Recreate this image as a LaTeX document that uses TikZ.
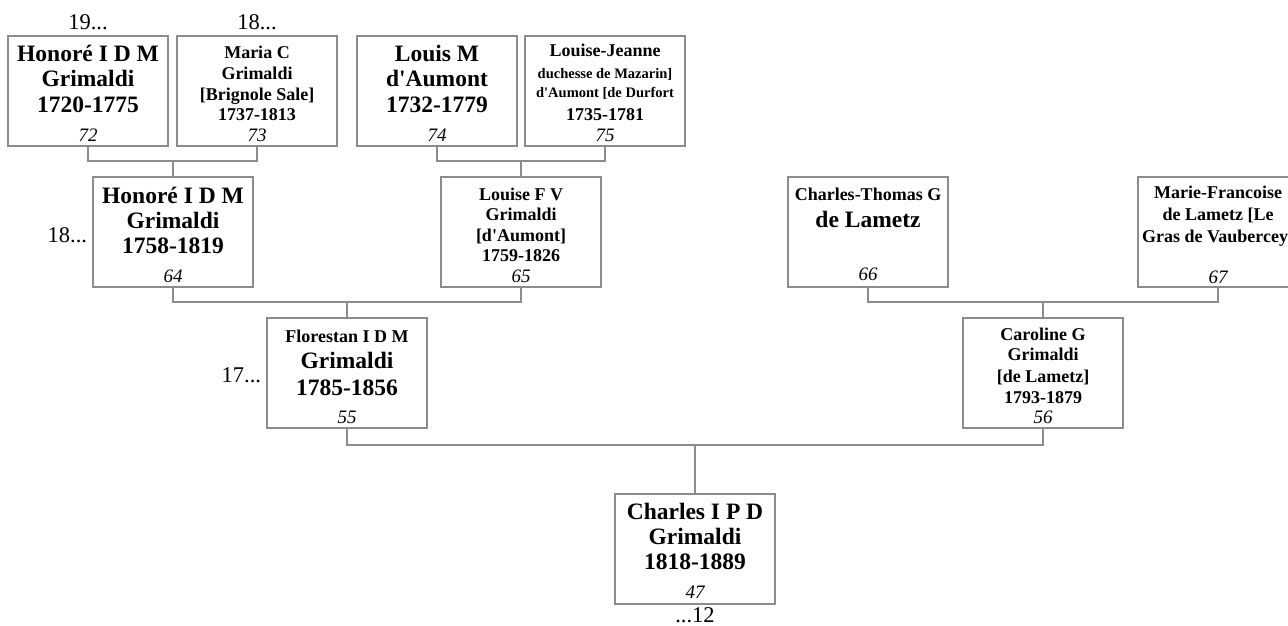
\documentclass[tikz,border=0pt]{standalone}
\usepackage{fontspec}
\setmainfont{Liberation Serif}
\definecolor{linegray}{HTML}{8C8C8C}
\newcommand\ap{\textquotesingle}
\begin{document}
\begin{tikzpicture}[x=1pt,y=-1pt,
  pbox/.style={draw=linegray,line width=1.2pt,minimum width=160pt,minimum height=110pt,inner sep=0pt,outer sep=0pt},
  conn/.style={draw=linegray,line width=1.2pt},
  tl/.style={anchor=base,inner sep=0pt,outer sep=0pt},
  big/.style={tl,font=\fontsize{23.5}{25}\selectfont\bfseries},
  med/.style={tl,font=\fontsize{18}{20}\selectfont\bfseries},
  sml/.style={tl,font=\fontsize{14.5}{16}\selectfont\bfseries},
  num/.style={tl,font=\fontsize{19}{21}\selectfont\itshape},
  gen/.style={tl,font=\fontsize{22.5}{24}\selectfont},
]
\useasboundingbox (0,0) rectangle (1288,626);

% boxes
\node[pbox] (b72) at (88,91) {};
\node[pbox] (b73) at (257,91) {};
\node[pbox] (b74) at (437,91) {};
\node[pbox] (b75) at (605,91) {};
\node[pbox] (b64) at (173,232) {};
\node[pbox] (b65) at (521,232) {};
\node[pbox] (b66) at (868,232) {};
\node[pbox] (b67) at (1218,232) {};
\node[pbox] (b55) at (347,373) {};
\node[pbox] (b56) at (1043,373) {};
\node[pbox] (b47) at (695,549) {};

% texts row 1
\node[big] (t72a) at ([yshift=-26pt]b72.north) {Honoré I D M};
\node[big] (t72b) at ([yshift=-51pt]b72.north) {Grimaldi};
\node[big] (t72c) at ([yshift=-76pt]b72.north) {1720-1775};
\node[num] (n72) at ([yshift=-105pt]b72.north) {72};

\node[med] (t73a) at ([yshift=-23pt]b73.north) {Maria C};
\node[med] (t73b) at ([yshift=-43.5pt]b73.north) {Grimaldi};
\node[med] (t73c) at ([yshift=-64pt]b73.north) {[Brignole Sale]};
\node[med] (t73d) at ([yshift=-84pt]b73.north) {1737-1813};
\node[num] (n73) at ([yshift=-105pt]b73.north) {73};

\node[big] (t74a) at ([yshift=-26pt]b74.north) {Louis M};
\node[big] (t74b) at ([yshift=-51pt]b74.north) {d\ap Aumont};
\node[big] (t74c) at ([yshift=-76pt]b74.north) {1732-1779};
\node[num] (n74) at ([yshift=-105pt]b74.north) {74};

\node[med] (t75a) at ([yshift=-21pt]b75.north) {Louise-Jeanne};
\node[sml] (t75b) at ([yshift=-42pt]b75.north) {duchesse de Mazarin]};
\node[sml] (t75c) at ([yshift=-62pt]b75.north) {d\ap Aumont [de Durfort};
\node[med] (t75d) at ([yshift=-85pt]b75.north) {1735-1781};
\node[num] (n75) at ([yshift=-105pt]b75.north) {75};

% row 2
\node[big] (t64a) at ([yshift=-26pt]b64.north) {Honoré I D M};
\node[big] (t64b) at ([yshift=-51pt]b64.north) {Grimaldi};
\node[big] (t64c) at ([yshift=-76pt]b64.north) {1758-1819};
\node[num] (n64) at ([yshift=-105pt]b64.north) {64};

\node[med] (t65a) at ([yshift=-23pt]b65.north) {Louise F V};
\node[med] (t65b) at ([yshift=-43.5pt]b65.north) {Grimaldi};
\node[med] (t65c) at ([yshift=-64pt]b65.north) {[d\ap Aumont]};
\node[med] (t65d) at ([yshift=-84pt]b65.north) {1759-1826};
\node[num] (n65) at ([yshift=-105pt]b65.north) {65};

\node[med] (t66a) at ([yshift=-23pt]b66.north) {Charles-Thomas G};
\node[big] (t66b) at ([yshift=-50pt]b66.north) {de Lametz};
\node[num] (n66) at ([yshift=-103pt]b66.north) {66};

\node[med] (t67a) at ([yshift=-21pt]b67.north) {Marie-Francoise};
\node[med] (t67b) at ([yshift=-43pt]b67.north) {de Lametz [Le};
\node[med] (t67c) at ([yshift=-65pt]b67.north) {Gras de Vaubercey]};
\node[num] (n67) at ([yshift=-106pt]b67.north) {67};

% row 3
\node[med] (t55a) at ([yshift=-24pt]b55.north) {Florestan I D M};
\node[big] (t55b) at ([yshift=-50pt]b55.north) {Grimaldi};
\node[big] (t55c) at ([yshift=-77pt]b55.north) {1785-1856};
\node[num] (n55) at ([yshift=-105pt]b55.north) {55};

\node[med] (t56a) at ([yshift=-22pt]b56.north) {Caroline G};
\node[med] (t56b) at ([yshift=-42.5pt]b56.north) {Grimaldi};
\node[med] (t56c) at ([yshift=-64pt]b56.north) {[de Lametz]};
\node[med] (t56d) at ([yshift=-85pt]b56.north) {1793-1879};
\node[num] (n56) at ([yshift=-105pt]b56.north) {56};

% row 4
\node[big] (t47a) at ([yshift=-25pt]b47.north) {Charles I P D};
\node[big] (t47b) at ([yshift=-50pt]b47.north) {Grimaldi};
\node[big] (t47c) at ([yshift=-75pt]b47.north) {1818-1889};
\node[num] (n47) at ([yshift=-104pt]b47.north) {47};

% generation labels
\node[gen] (g72) at ([yshift=6pt]b72.north) {19...};
\node[gen] (g73) at ([yshift=6pt]b73.north) {18...};
\node[gen,anchor=base east] (g64) at ([xshift=-6pt,yshift=-10pt]b64.west) {18...};
\node[gen,anchor=base east] (g55) at ([xshift=-6pt,yshift=-9pt]b55.west) {17...};
\node[gen] (g47) at ([yshift=-18pt]b47.south) {...12};

% junctions
\path (b64.north) ++(0,-16) coordinate (j64);
\path (b65.north) ++(0,-16) coordinate (j65);
\path (b55.north) ++(0,-16) coordinate (j55);
\path (b56.north) ++(0,-16) coordinate (j56);
\path (b47.north) ++(0,-49) coordinate (j47);

% connectors
\draw[conn] (b72.south) |- (j64) -| (b73.south);
\draw[conn] (j64) -- (b64.north);
\draw[conn] (b74.south) |- (j65) -| (b75.south);
\draw[conn] (j65) -- (b65.north);
\draw[conn] (b64.south) |- (j55) -| (b65.south);
\draw[conn] (j55) -- (b55.north);
\draw[conn] (b66.south) |- (j56) -| (b67.south);
\draw[conn] (j56) -- (b56.north);
\draw[conn] (b55.south) |- (j47) -| (b56.south);
\draw[conn] (j47) -- (b47.north);
\end{tikzpicture}
\end{document}
